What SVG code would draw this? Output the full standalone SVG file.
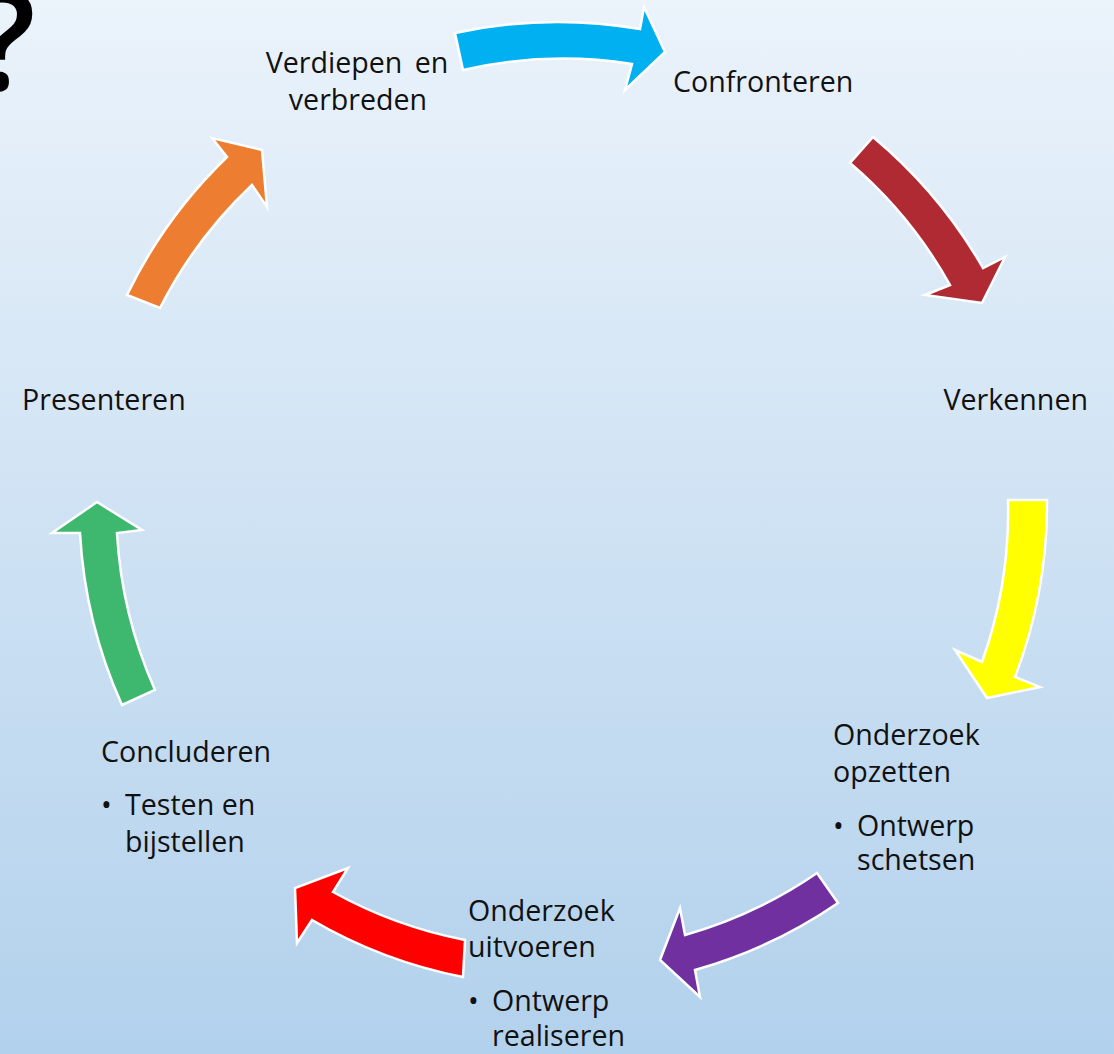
<svg xmlns="http://www.w3.org/2000/svg" width="1114" height="1054" viewBox="0 0 1114 1054">
<defs>
<linearGradient id="bg" x1="0" y1="0" x2="0" y2="1">
<stop offset="0" stop-color="#EBF3FB"/>
<stop offset="1" stop-color="#B2D1EC"/>
</linearGradient>
</defs>
<style>
.arrow{stroke:#FFFFFF;stroke-width:2.5;stroke-linejoin:miter}
.t{font-family:"Open Sans","Liberation Sans",sans-serif;font-size:28.6px;fill:#111111}
.q{font-family:"Open Sans","Liberation Sans",sans-serif;font-size:140px;font-weight:600;fill:#000000}
</style>
<rect x="0" y="0" width="1114" height="1054" fill="url(#bg)"/>
<text class="q" x="4" y="90" text-anchor="middle">?</text>
<g id="connectors">
<path id="a-blue" class="arrow" fill="#00B0F0" d="M455,33 A484,484 0 0 1 640,29 L644,7 L665,52 L625,90 L632,64 A447,447 0 0 0 463,70 Z"/>
<path id="a-darkred" class="arrow" fill="#B02A33" d="M873,137 A484,484 0 0 1 983,268 L1005,257 L982,303 L925,295 L950,285 A447,447 0 0 0 850,163 Z"/>
<path id="a-yellow" class="arrow" fill="#FFFF00" d="M1047,500 A484,484 0 0 1 1015,677 L1040,687 L987,698 L955,650 L982,662 A447,447 0 0 0 1008,500 Z"/>
<path id="a-purple" class="arrow" fill="#7030A0" d="M838,903 A484,484 0 0 1 695,970 L700,997 L660,960 L680,908 L685,935 A447,447 0 0 0 817,873 Z"/>
<path id="a-red" class="arrow" fill="#FF0000" d="M463,977 A484,484 0 0 1 312,920 L297,943 L295,888 L348,868 L333,892 A447,447 0 0 0 465,940 Z"/>
<path id="a-green" class="arrow" fill="#3FB86F" d="M122,705 A484,484 0 0 1 80,533 L52,533 L97,502 L142,530 L117,533 A447,447 0 0 0 155,690 Z"/>
<path id="a-orange" class="arrow" fill="#ED7D31" d="M127,295 A484,484 0 0 1 227,157 L212,138 L262,150 L267,207 L252,185 A447,447 0 0 0 160,308 Z"/>
</g>
<g id="n-verdiepen">
<text class="t" x="357" y="73" text-anchor="middle" word-spacing="5">Verdiepen en</text>
<text class="t" x="358" y="110" text-anchor="middle">verbreden</text>
</g>
<g id="n-confronteren">
<text class="t" x="673" y="92">Confronteren</text>
</g>
<g id="n-verkennen">
<text class="t" x="1088" y="410" text-anchor="end">Verkennen</text>
</g>
<g id="n-opzetten">
<text class="t" x="833" y="745">Onderzoek</text>
<text class="t" x="833" y="782">opzetten</text>
<text class="t" x="833" y="836">•</text>
<text class="t" x="857" y="836">Ontwerp</text>
<text class="t" x="857" y="870">schetsen</text>
</g>
<g id="n-uitvoeren">
<text class="t" x="468" y="921">Onderzoek</text>
<text class="t" x="468" y="957">uitvoeren</text>
<text class="t" x="468" y="1011">•</text>
<text class="t" x="492" y="1011">Ontwerp</text>
<text class="t" x="492" y="1046">realiseren</text>
</g>
<g id="n-concluderen">
<text class="t" x="101" y="762">Concluderen</text>
<text class="t" x="101" y="815">•</text>
<text class="t" x="125" y="815">Testen en</text>
<text class="t" x="125" y="852">bijstellen</text>
</g>
<g id="n-presenteren">
<text class="t" x="22" y="410">Presenteren</text>
</g>
</svg>
